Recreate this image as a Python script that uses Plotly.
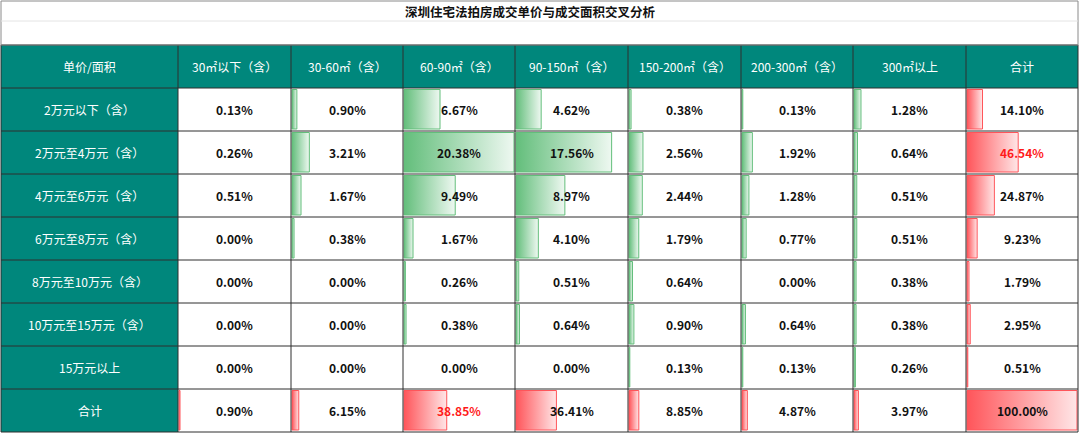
import plotly.graph_objects as go

title = "深圳住宅法拍房成交单价与成交面积交叉分析"
corner = "单价/面积"
area_labels = ["30㎡以下（含）", "30-60㎡（含）", "60-90㎡（含）", "90-150㎡（含）",
               "150-200㎡（含）", "200-300㎡（含）", "300㎡以上", "合计"]
price_labels = ["2万元以下（含）", "2万元至4万元（含）", "4万元至6万元（含）", "6万元至8万元（含）",
                "8万元至10万元（含）", "10万元至15万元（含）", "15万元以上", "合计"]

row_2w = [0.13, 0.90, 6.67, 4.62, 0.38, 0.13, 1.28, 14.10]
row_2_4w = [0.26, 3.21, 20.38, 17.56, 2.56, 1.92, 0.64, 46.54]
row_4_6w = [0.51, 1.67, 9.49, 8.97, 2.44, 1.28, 0.51, 24.87]
row_6_8w = [0.00, 0.38, 1.67, 4.10, 1.79, 0.77, 0.51, 9.23]
row_8_10w = [0.00, 0.00, 0.26, 0.51, 0.64, 0.00, 0.38, 1.79]
row_10_15w = [0.00, 0.00, 0.38, 0.64, 0.90, 0.64, 0.38, 2.95]
row_15w = [0.00, 0.00, 0.00, 0.00, 0.13, 0.13, 0.26, 0.51]
row_total = [0.90, 6.15, 38.85, 36.41, 8.85, 4.87, 3.97, 100.00]

rows = [row_2w, row_2_4w, row_4_6w, row_6_8w, row_8_10w, row_10_15w, row_15w, row_total]

# ---- layout geometry (pixel-like axis units) ----
W, H = 1080, 433
col_edges = [1, 178, 291, 403, 515, 628, 741, 853, 966, 1078]
title_bottom = 21
header_top = 45
row_h = 43
n_rows = len(rows)
row_edges = [header_top + i * row_h for i in range(n_rows + 2)]
row_edges[-1] = min(row_edges[-1], H - 1)

TEAL = "#00877C"
GRID = "#2e2e2e"
GREEN = "#63BE7B"
GREEN_END = "#EEF8F1"
RED = "#FF555A"
RED_END = "#FFE6E7"
FONT = "Noto Sans CJK SC"

fig = go.Figure()
shapes = []
annotations = []

# teal header row and first column
shapes.append(dict(type="rect", xref="x", yref="y", x0=col_edges[0], x1=col_edges[-1],
                   y0=row_edges[0], y1=row_edges[1], fillcolor=TEAL, line_width=0, layer="below"))
shapes.append(dict(type="rect", xref="x", yref="y", x0=col_edges[0], x1=col_edges[1],
                   y0=row_edges[1], y1=row_edges[-1], fillcolor=TEAL, line_width=0, layer="below"))

# data bars
green_max = max(max(r[:7]) for r in rows[:7])
red_max = 100.0
for ri, r in enumerate(rows):
    for ci, v in enumerate(r):
        is_total = (ri == n_rows - 1) or (ci == 7)
        if v <= 0:
            continue
        if not is_total and ci == 0:
            continue  # no data bar in this column in the source table
        cx0, cx1 = col_edges[ci + 1], col_edges[ci + 2]
        cy0, cy1 = row_edges[ri + 1], row_edges[ri + 2]
        frac = v / (red_max if is_total else green_max)
        bx0 = cx0 + 1
        bx1 = bx0 + max(frac * (cx1 - cx0 - 2), 0.8)
        by0, by1 = cy0 + 1.5, cy1 - 2
        c0, c1 = (RED, RED_END) if is_total else (GREEN, GREEN_END)
        fig.add_trace(go.Scatter(
            x=[bx0, bx1, bx1, bx0, bx0], y=[by0, by0, by1, by1, by0],
            mode="lines", fill="toself",
            fillgradient=dict(type="horizontal", colorscale=[[0, c0], [1, c1]]),
            line=dict(color=c0, width=1), hoverinfo="skip", showlegend=False))

# grid lines
for ye in row_edges:
    shapes.append(dict(type="line", xref="x", yref="y", x0=col_edges[0], x1=col_edges[-1],
                       y0=ye, y1=ye, line=dict(color=GRID, width=1)))
for xe in col_edges:
    shapes.append(dict(type="line", xref="x", yref="y", x0=xe, x1=xe,
                       y0=row_edges[0], y1=row_edges[-1], line=dict(color=GRID, width=1)))
# title area border
shapes.append(dict(type="rect", xref="x", yref="y", x0=col_edges[0], x1=col_edges[-1],
                   y0=1, y1=header_top, line=dict(color="#8a8a8a", width=1)))
shapes.append(dict(type="line", xref="x", yref="y", x0=col_edges[0], x1=col_edges[-1],
                   y0=title_bottom, y1=title_bottom, line=dict(color="#e4e4e4", width=1)))

# texts
annotations.append(dict(x=530, y=(1 + title_bottom) / 2, xref="x", yref="y", text=title,
                        showarrow=False, font=dict(family=FONT, size=12.5, color="#111", weight="bold")))
mid = lambda a, b: (a + b) / 2
hy = mid(row_edges[0], row_edges[1])
annotations.append(dict(x=mid(col_edges[0], col_edges[1]), y=hy, xref="x", yref="y", text=corner,
                        showarrow=False, font=dict(family=FONT, size=12, color="white")))
for ci, lab in enumerate(area_labels):
    annotations.append(dict(x=mid(col_edges[ci + 1], col_edges[ci + 2]), y=hy, xref="x", yref="y",
                            text=lab, showarrow=False,
                            font=dict(family=FONT, size=12, color="white")))
for ri, lab in enumerate(price_labels):
    annotations.append(dict(x=mid(col_edges[0], col_edges[1]), y=mid(row_edges[ri + 1], row_edges[ri + 2]),
                            xref="x", yref="y", text=lab, showarrow=False,
                            font=dict(family=FONT, size=12, color="white")))

col_tot_max = max(row[7] for row in rows[:7])
row_tot_max = max(row_total[:7])
for ri, r in enumerate(rows):
    for ci, v in enumerate(r):
        red = (ci == 7 and ri < n_rows - 1 and v == col_tot_max) or \
              (ri == n_rows - 1 and ci < 7 and v == row_tot_max)
        annotations.append(dict(x=mid(col_edges[ci + 1], col_edges[ci + 2]),
                                y=mid(row_edges[ri + 1], row_edges[ri + 2]),
                                xref="x", yref="y", text=f"{v:.2f}%", showarrow=False,
                                font=dict(family=FONT, size=12, color="#FF1A1A" if red else "#111",
                                          weight="bold")))

fig.update_layout(
    width=W, height=H, autosize=False,
    margin=dict(l=0, r=0, t=0, b=0),
    paper_bgcolor="white", plot_bgcolor="white",
    xaxis=dict(range=[0, W], visible=False, fixedrange=True),
    yaxis=dict(range=[H, 0], visible=False, fixedrange=True),
    shapes=shapes, annotations=annotations, showlegend=False,
)
fig.write_html("out.html", config={"displayModeBar": False},
               post_script="document.body.style.margin='0';document.body.style.overflow='hidden';")
